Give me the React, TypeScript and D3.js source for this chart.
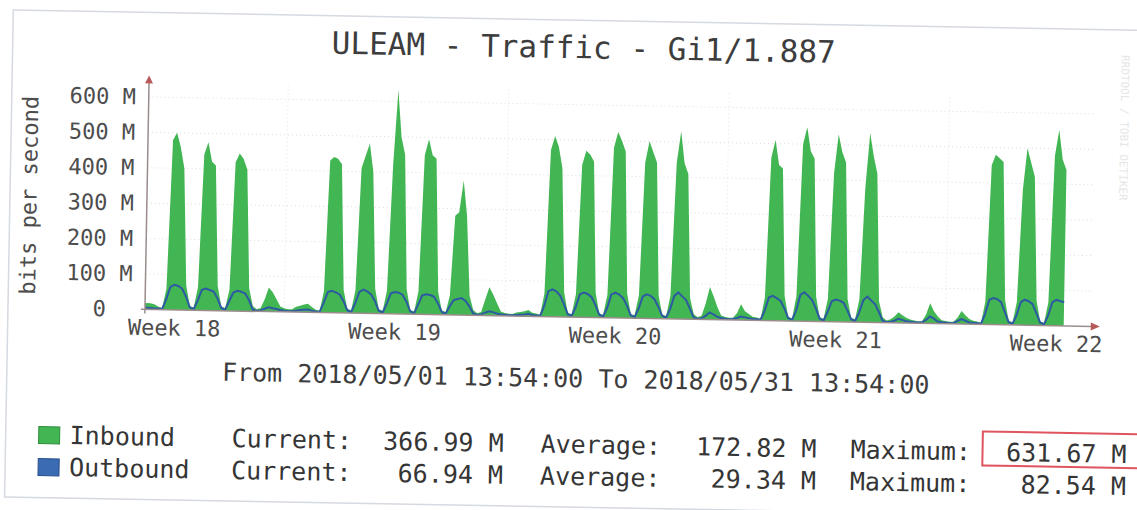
import React, { useEffect, useRef } from 'react';
import * as d3 from 'd3';

const title = 'ULEAM - Traffic - Gi1/1.887';
const yTitle = 'bits per second';
const rangeText = 'From 2018/05/01 13:54:00 To 2018/05/31 13:54:00';

// one sample every 3 hours, first one at 2018-05-01 12:00, values in Mbit/s
// rows: 00h 03h 06h 09h 12h 15h 18h 21h
const inbound: number[][] = [
  [20, 18, 18, 15], // May 1 from 12h
  [8, 5, 60, 480, 500, 460, 400, 70],
  [12, 8, 65, 440, 475, 420, 410, 70],
  [12, 8, 60, 420, 445, 430, 400, 65],
  [15, 6, 10, 35, 68, 55, 35, 15],
  [10, 8, 8, 15, 18, 22, 24, 15],
  [8, 5, 60, 430, 440, 435, 420, 65],
  [12, 8, 65, 410, 445, 480, 400, 70],
  [12, 8, 65, 420, 632, 500, 450, 70],
  [12, 8, 65, 450, 495, 450, 440, 65],
  [12, 8, 55, 280, 290, 380, 280, 55],
  [15, 6, 10, 45, 80, 60, 35, 12],
  [8, 6, 6, 10, 12, 14, 18, 10],
  [8, 5, 65, 470, 510, 480, 420, 70],
  [12, 8, 65, 430, 470, 460, 440, 70],
  [12, 8, 65, 480, 525, 500, 470, 70],
  [12, 8, 65, 440, 500, 470, 440, 65],
  [12, 8, 65, 440, 530, 440, 410, 60],
  [15, 6, 10, 45, 92, 65, 35, 12],
  [8, 6, 6, 20, 45, 25, 18, 10],
  [8, 5, 65, 460, 510, 440, 430, 70],
  [12, 8, 70, 500, 548, 480, 460, 70],
  [12, 8, 65, 420, 530, 480, 450, 65],
  [12, 8, 65, 380, 535, 470, 420, 60],
  [15, 6, 10, 18, 30, 22, 15, 10],
  [8, 6, 6, 25, 57, 35, 20, 10],
  [8, 6, 6, 18, 37, 25, 15, 10],
  [8, 5, 65, 450, 480, 470, 460, 70],
  [12, 8, 65, 380, 500, 460, 420, 70],
  [12, 8, 65, 480, 553, 470, 440], // May 30 until 18h
];

const outbound: number[][] = [
  [5, 5, 4, 3],
  [3, 2, 30, 65, 71, 68, 60, 38],
  [8, 3, 28, 58, 62, 58, 54, 35],
  [8, 3, 28, 52, 57, 55, 50, 32],
  [5, 2, 3, 8, 12, 10, 8, 5],
  [3, 2, 2, 4, 6, 7, 8, 5],
  [3, 2, 28, 58, 62, 58, 52, 34],
  [8, 3, 28, 60, 67, 62, 54, 35],
  [8, 3, 28, 58, 62, 60, 54, 35],
  [8, 3, 28, 54, 57, 55, 50, 32],
  [8, 3, 24, 42, 45, 48, 40, 25],
  [5, 2, 3, 8, 12, 10, 6, 4],
  [3, 2, 2, 3, 4, 5, 7, 4],
  [3, 2, 30, 72, 77, 72, 60, 36],
  [8, 3, 28, 65, 70, 66, 57, 35],
  [8, 3, 28, 66, 71, 66, 56, 35],
  [8, 3, 28, 62, 68, 64, 54, 33],
  [8, 3, 28, 65, 75, 64, 54, 30],
  [5, 2, 3, 10, 20, 15, 8, 5],
  [3, 2, 3, 6, 10, 8, 6, 4],
  [3, 2, 28, 65, 70, 64, 56, 35],
  [8, 3, 30, 74, 82, 72, 60, 36],
  [8, 3, 28, 58, 63, 60, 54, 33],
  [8, 3, 28, 62, 73, 62, 52, 30],
  [5, 2, 3, 6, 12, 9, 5, 4],
  [3, 2, 3, 10, 20, 14, 6, 4],
  [3, 2, 3, 8, 14, 10, 5, 4],
  [3, 2, 30, 70, 75, 72, 64, 36],
  [8, 3, 28, 65, 72, 68, 60, 35],
  [8, 3, 28, 66, 73, 70, 67],
];

const yTicks = [0, 100, 200, 300, 400, 500, 600];
const weekTicks = [
  new Date(2018, 4, 2, 12),
  new Date(2018, 4, 9, 12),
  new Date(2018, 4, 16, 12),
  new Date(2018, 4, 23, 12),
  new Date(2018, 4, 30, 12),
];
const weekLabels = ['Week 18', 'Week 19', 'Week 20', 'Week 21', 'Week 22'];

const seriesNames = ['Inbound', 'Outbound'];
const currentVals = ['366.99 M', '66.94 M'];
const averageVals = ['172.82 M', '29.34 M'];
const maximumVals = ['631.67 M', '82.54 M'];

interface Sample {
  t: Date;
  inb: number;
  out: number;
}

const App: React.FC = () => {
  const svgRef = useRef<SVGSVGElement | null>(null);

  useEffect(() => {
    const svg = d3.select(svgRef.current);
    svg.selectAll('*').remove();

    const mono = '"DejaVu Sans Mono", monospace';
    const green = '#42b653';
    const blue = '#2d5aa3';

    // the original is a slightly tilted photo
    const root = svg.append('g').attr('transform', 'rotate(1.03 568 255)');

    root.append('rect')
      .attr('x', 9).attr('y', 20).attr('width', 1170).attr('height', 487)
      .attr('fill', 'none').attr('stroke', '#d5d9e0').attr('stroke-width', 1.5);

    const x0 = 146, x1 = 1091, yBase = 317;
    const start = new Date(2018, 4, 1, 13, 54);
    const end = new Date(2018, 4, 31, 13, 54);
    const x = d3.scaleTime().domain([start, end]).range([x0, x1]);
    const y = d3.scaleLinear().domain([0, 600]).range([yBase, 104.5]);

    const first = new Date(2018, 4, 1, 12);
    const inVals = inbound.flat();
    const outVals = outbound.flat();
    const samples: Sample[] = inVals.map((v, i) => ({
      t: d3.timeHour.offset(first, 3 * i),
      inb: v,
      out: outVals[i],
    }));

    root.append('defs').append('clipPath').attr('id', 'plot')
      .append('rect').attr('x', x0).attr('y', 60).attr('width', x1 - x0).attr('height', yBase - 60);

    // grid
    const grid = root.append('g');
    grid.selectAll('.hgrid')
      .data(yTicks.slice(1))
      .enter().append('line')
      .attr('x1', x0).attr('x2', x1)
      .attr('y1', (d) => y(d)).attr('y2', (d) => y(d))
      .attr('stroke', '#dcdcdc').attr('stroke-dasharray', '1,3');
    grid.selectAll('.vgrid')
      .data(d3.timeSunday.range(start, end))
      .enter().append('line')
      .attr('x1', (d) => x(d)).attr('x2', (d) => x(d))
      .attr('y1', y(640)).attr('y2', yBase)
      .attr('stroke', '#e2e2e2').attr('stroke-dasharray', '1,3');

    const plot = root.append('g').attr('clip-path', 'url(#plot)');

    const area = d3.area<Sample>()
      .x((d) => x(d.t))
      .y0(yBase)
      .y1((d) => y(d.inb));
    plot.append('path').datum(samples).attr('d', area).attr('fill', green);

    const line = d3.line<Sample>()
      .x((d) => x(d.t))
      .y((d) => y(d.out));
    plot.append('path').datum(samples).attr('d', line)
      .attr('fill', 'none').attr('stroke', blue).attr('stroke-width', 2);

    // axes
    const yAxis = root.append('g')
      .attr('transform', `translate(${x0},0)`)
      .call(d3.axisLeft(y).tickValues(yTicks).tickSize(0).tickPadding(13)
        .tickFormat((d) => (d === 0 ? '0' : `${d} M`)));
    yAxis.select('.domain').remove();
    yAxis.selectAll('text')
      .attr('font-family', mono).attr('font-size', 22).attr('fill', '#4d4d4d')
      .attr('dx', (d) => (d === 0 ? -26 : 0));

    const xAxis = root.append('g')
      .attr('transform', `translate(0,${yBase})`)
      .call(d3.axisBottom(x).tickValues(weekTicks).tickSize(0).tickPadding(10)
        .tickFormat((_, i) => weekLabels[i]));
    xAxis.select('.domain').remove();
    xAxis.selectAll('text')
      .attr('font-family', mono).attr('font-size', 22).attr('fill', '#4d4d4d');

    root.append('line')
      .attr('x1', x0 - 4).attr('x2', x1 + 2).attr('y1', yBase).attr('y2', yBase)
      .attr('stroke', '#9c8c8c').attr('stroke-width', 1.5);
    root.append('path')
      .attr('d', `M${x1 + 1},${yBase - 4}L${x1 + 10},${yBase}L${x1 + 1},${yBase + 4}Z`)
      .attr('fill', '#b85a5a');
    root.append('line')
      .attr('x1', x0).attr('x2', x0).attr('y1', yBase + 4).attr('y2', 90)
      .attr('stroke', '#9c8c8c').attr('stroke-width', 1.5);
    root.append('path')
      .attr('d', `M${x0 - 4},91L${x0},83L${x0 + 4},91Z`)
      .attr('fill', '#b85a5a');

    // texts
    root.append('text')
      .attr('x', 580).attr('y', 58).attr('text-anchor', 'middle')
      .attr('font-family', mono).attr('font-size', 31).attr('fill', '#3d3d3d')
      .text(title);

    root.append('text')
      .attr('transform', 'translate(28,205) rotate(-90)')
      .attr('text-anchor', 'middle').attr('dy', '0.35em')
      .attr('font-family', mono).attr('font-size', 22).attr('fill', '#4d4d4d')
      .text(yTitle);

    root.append('text')
      .attr('x', 578).attr('y', 387).attr('text-anchor', 'middle')
      .attr('font-family', mono).attr('font-size', 25).attr('fill', '#3d3d3d')
      .text(rangeText);

    root.append('text')
      .attr('transform', 'translate(1118,45) rotate(90)')
      .attr('font-family', mono).attr('font-size', 11).attr('fill', '#e6e6e6')
      .text('RRDTOOL / TOBI OETIKER');

    // legend
    const colors = [green, '#3a6bb3'];
    const borders = ['#2f8c3f', '#29508c'];
    const rowY = [453, 485];
    const legend = root.selectAll('.legend')
      .data(seriesNames)
      .enter().append('g')
      .attr('transform', (_, i) => `translate(0,${rowY[i]})`);

    legend.append('rect')
      .attr('x', 42).attr('y', -17).attr('width', 21).attr('height', 17)
      .attr('fill', (_, i) => colors[i]).attr('stroke', (_, i) => borders[i]);

    const put = (txt: (i: number) => string, xPos: number, anchor: string) =>
      legend.append('text')
        .attr('x', xPos).attr('text-anchor', anchor)
        .attr('font-family', mono).attr('font-size', 25).attr('fill', '#353535')
        .text((_, i) => txt(i));

    put((i) => seriesNames[i], 73, 'start');
    put(() => 'Current:', 235, 'start');
    put((i) => currentVals[i], 507, 'end');
    put(() => 'Average:', 544, 'start');
    put((i) => averageVals[i], 820, 'end');
    put(() => 'Maximum:', 854, 'start');
    put((i) => maximumVals[i], 1130, 'end');

    root.append('rect')
      .attr('x', 986).attr('y', 424).attr('width', 156).attr('height', 34)
      .attr('fill', 'none').attr('stroke', '#e0545f').attr('stroke-width', 2);
  }, []);

  return (
    <svg
      ref={svgRef}
      width={1137}
      height={510}
      style={{ position: 'absolute', left: 0, top: 0, background: '#ffffff' }}
    />
  );
};

export default App;
